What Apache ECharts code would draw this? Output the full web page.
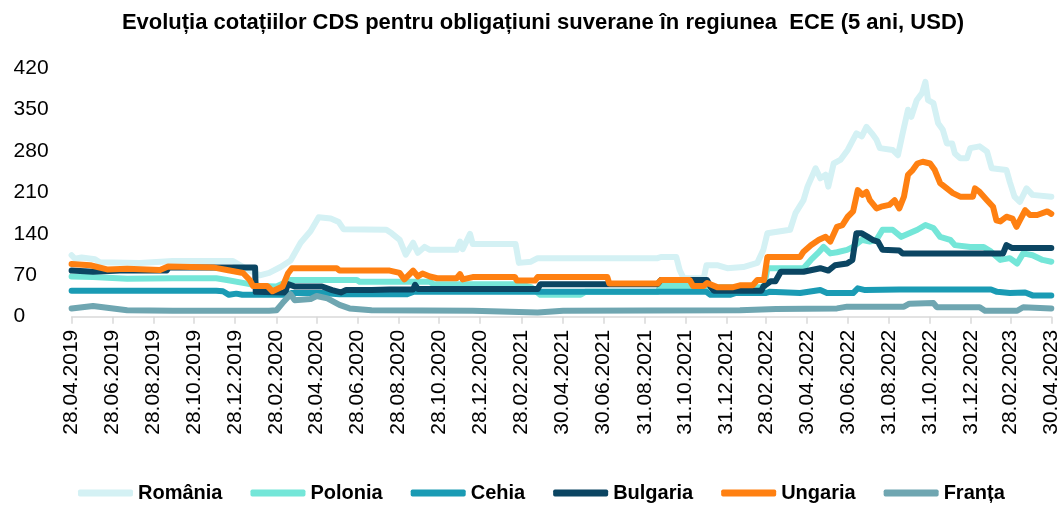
<!DOCTYPE html>
<html>
<head>
<meta charset="utf-8">
<script src="https://cdn.jsdelivr.net/npm/echarts@6/dist/echarts.min.js"></script>
<style>
  html, body { margin: 0; padding: 0; background: #fff; }
  #chart { width: 1062px; height: 505px; }
</style>
</head>
<body>
<div id="chart"></div>
<script>
// etichetele axei X (date)
const tickLabels = [
  "28.04.2019", "28.06.2019", "28.08.2019", "28.10.2019", "28.12.2019",
  "28.02.2020", "28.04.2020", "28.06.2020", "28.08.2020", "28.10.2020",
  "28.12.2020", "28.02.2021", "30.04.2021", "30.06.2021", "31.08.2021",
  "31.10.2021", "31.12.2021", "28.02.2022", "30.04.2022", "30.06.2022",
  "31.08.2022", "31.10.2022", "31.12.2022", "28.02.2023", "30.04.2023"
];
const yTicks = [0, 70, 140, 210, 280, 350, 420];

const romania = [
  ["2019-04-28", 104], ["2019-05-03", 98], ["2019-05-13", 100], ["2019-06-02", 97],
  ["2019-06-09", 92], ["2019-08-08", 91], ["2019-09-26", 94], ["2019-12-25", 94],
  ["2020-01-12", 82], ["2020-02-03", 70], ["2020-02-17", 74], ["2020-03-05", 84],
  ["2020-03-20", 95], ["2020-04-04", 125], ["2020-04-19", 145], ["2020-05-01", 168],
  ["2020-05-19", 166], ["2020-05-31", 160], ["2020-06-07", 148], ["2020-08-10", 147],
  ["2020-08-18", 141], ["2020-08-30", 130], ["2020-09-08", 105], ["2020-09-19", 125],
  ["2020-09-26", 108], ["2020-10-06", 118], ["2020-10-14", 113], ["2020-11-23", 113],
  ["2020-11-28", 127], ["2020-12-02", 114], ["2020-12-13", 140], ["2020-12-17", 123],
  ["2021-02-19", 123], ["2021-02-24", 91], ["2021-03-14", 93], ["2021-03-24", 99],
  ["2021-09-19", 99], ["2021-09-24", 101], ["2021-10-17", 101], ["2021-10-22", 79],
  ["2021-10-28", 65], ["2021-11-27", 65], ["2021-12-01", 87], ["2021-12-17", 87],
  ["2022-01-01", 82], ["2022-01-25", 84], ["2022-02-15", 91], ["2022-02-24", 113],
  ["2022-03-02", 141], ["2022-04-05", 147], ["2022-04-13", 175], ["2022-04-25", 197],
  ["2022-05-01", 220], ["2022-05-13", 251], ["2022-05-20", 234], ["2022-05-28", 240],
  ["2022-06-01", 220], ["2022-06-09", 259], ["2022-06-19", 265], ["2022-06-30", 282],
  ["2022-07-13", 310], ["2022-07-21", 305], ["2022-07-28", 321], ["2022-08-05", 310],
  ["2022-08-12", 299], ["2022-08-17", 285], ["2022-09-05", 282], ["2022-09-13", 273],
  ["2022-09-20", 310], ["2022-09-28", 350], ["2022-10-03", 338], ["2022-10-11", 366],
  ["2022-10-19", 378], ["2022-10-24", 397], ["2022-10-28", 366], ["2022-11-05", 361],
  ["2022-11-12", 327], ["2022-11-19", 316], ["2022-11-25", 293], ["2022-12-03", 293],
  ["2022-12-07", 276], ["2022-12-15", 268], ["2022-12-25", 268], ["2022-12-30", 285],
  ["2023-01-13", 288], ["2023-01-24", 279], ["2023-01-31", 251], ["2023-02-22", 248],
  ["2023-02-27", 228], ["2023-03-06", 203], ["2023-03-14", 194], ["2023-03-24", 217],
  ["2023-04-02", 206], ["2023-04-30", 203]
];

const polonia = [
  ["2019-04-28", 68], ["2019-05-30", 67], ["2019-07-20", 64], ["2019-09-26", 65],
  ["2019-11-30", 65], ["2019-12-16", 62], ["2020-01-15", 56], ["2020-02-03", 52],
  ["2020-02-28", 51], ["2020-03-20", 62], ["2020-06-27", 62], ["2020-07-01", 59],
  ["2020-10-14", 59], ["2020-10-19", 55], ["2021-02-25", 55], ["2021-03-14", 50],
  ["2021-03-28", 37], ["2021-05-27", 37], ["2021-06-03", 42], ["2021-09-19", 42],
  ["2021-09-24", 52], ["2021-11-11", 52], ["2021-11-17", 50], ["2022-02-25", 50],
  ["2022-03-02", 82], ["2022-04-25", 82], ["2022-05-06", 96], ["2022-05-16", 107],
  ["2022-05-25", 118], ["2022-06-04", 107], ["2022-06-14", 109], ["2022-06-29", 113],
  ["2022-07-08", 118], ["2022-07-21", 130], ["2022-08-02", 127], ["2022-08-12", 130],
  ["2022-08-21", 147], ["2022-09-05", 147], ["2022-09-18", 135], ["2022-09-30", 141],
  ["2022-10-12", 147], ["2022-10-24", 155], ["2022-11-05", 150], ["2022-11-15", 135],
  ["2022-11-30", 130], ["2022-12-07", 121], ["2022-12-30", 118], ["2023-01-19", 118],
  ["2023-01-30", 110], ["2023-02-13", 96], ["2023-02-27", 99], ["2023-03-10", 90],
  ["2023-03-19", 107], ["2023-04-02", 104], ["2023-04-17", 96], ["2023-04-30", 93]
];

const cehia = [
  ["2019-04-28", 44], ["2019-11-30", 44], ["2019-12-10", 43], ["2019-12-19", 37],
  ["2019-12-30", 39], ["2020-01-08", 37], ["2020-03-12", 37], ["2020-03-21", 40],
  ["2020-05-06", 40], ["2020-06-01", 38], ["2020-09-10", 38], ["2020-09-19", 42],
  ["2021-12-01", 42], ["2021-12-07", 37], ["2022-01-05", 37], ["2022-01-13", 40],
  ["2022-02-28", 40], ["2022-03-05", 42], ["2022-04-20", 40], ["2022-05-20", 45],
  ["2022-05-30", 40], ["2022-07-08", 40], ["2022-07-15", 48], ["2022-07-26", 45],
  ["2022-09-15", 46], ["2023-01-30", 46], ["2023-02-08", 42], ["2023-02-27", 40],
  ["2023-03-22", 41], ["2023-04-02", 36], ["2023-04-30", 36]
];

const bulgaria = [
  ["2019-04-28", 78], ["2019-05-30", 76], ["2019-07-09", 78], ["2019-09-17", 78],
  ["2019-09-20", 83], ["2020-01-27", 83], ["2020-01-28", 42], ["2020-03-12", 41],
  ["2020-03-16", 55], ["2020-03-27", 51], ["2020-05-06", 51], ["2020-05-21", 45],
  ["2020-06-03", 41], ["2020-06-11", 45], ["2020-07-19", 45], ["2020-08-15", 46],
  ["2020-09-19", 46], ["2020-09-22", 54], ["2020-09-26", 47], ["2021-03-24", 47],
  ["2021-03-28", 55], ["2021-09-19", 55], ["2021-09-24", 62], ["2021-12-02", 62],
  ["2021-12-07", 51], ["2021-12-12", 44], ["2022-02-21", 44], ["2022-02-24", 51],
  ["2022-03-07", 60], ["2022-03-14", 60], ["2022-03-22", 76], ["2022-04-25", 76],
  ["2022-05-20", 82], ["2022-06-01", 78], ["2022-06-11", 87], ["2022-06-29", 90],
  ["2022-07-07", 96], ["2022-07-13", 141], ["2022-07-21", 141], ["2022-07-30", 135],
  ["2022-08-06", 130], ["2022-08-14", 127], ["2022-08-21", 113], ["2022-09-15", 112],
  ["2022-09-20", 107], ["2023-02-17", 107], ["2023-02-22", 121], ["2023-03-03", 116],
  ["2023-04-30", 116]
];

const ungaria = [
  ["2019-04-28", 89], ["2019-05-26", 87], ["2019-06-20", 80], ["2019-07-20", 81],
  ["2019-09-07", 79], ["2019-09-19", 85], ["2019-11-27", 83], ["2019-12-16", 79],
  ["2020-01-09", 74], ["2020-01-19", 62], ["2020-01-24", 52], ["2020-02-14", 52],
  ["2020-02-22", 43], ["2020-03-08", 51], ["2020-03-16", 73], ["2020-03-22", 82],
  ["2020-05-28", 82], ["2020-06-01", 78], ["2020-08-15", 78], ["2020-08-30", 74],
  ["2020-09-06", 63], ["2020-09-19", 78], ["2020-09-26", 68], ["2020-10-03", 73],
  ["2020-10-14", 68], ["2020-10-25", 65], ["2020-11-23", 65], ["2020-11-28", 72],
  ["2020-12-02", 63], ["2020-12-17", 67], ["2021-02-18", 67], ["2021-02-21", 61],
  ["2021-03-20", 61], ["2021-03-24", 67], ["2021-07-06", 67], ["2021-07-09", 56],
  ["2021-09-19", 56], ["2021-09-24", 62], ["2021-11-06", 62], ["2021-11-11", 52],
  ["2021-11-27", 52], ["2021-12-02", 57], ["2021-12-17", 50], ["2022-01-10", 50],
  ["2022-01-20", 53], ["2022-02-08", 53], ["2022-02-15", 62], ["2022-02-25", 62],
  ["2022-03-02", 101], ["2022-04-20", 101], ["2022-04-25", 110], ["2022-05-06", 121],
  ["2022-05-18", 130], ["2022-05-28", 135], ["2022-06-04", 127], ["2022-06-14", 152],
  ["2022-06-22", 155], ["2022-06-30", 169], ["2022-07-08", 178], ["2022-07-15", 214],
  ["2022-07-22", 206], ["2022-07-28", 211], ["2022-08-02", 197], ["2022-08-12", 183],
  ["2022-08-19", 186], ["2022-08-31", 189], ["2022-09-08", 197], ["2022-09-15", 183],
  ["2022-09-22", 203], ["2022-09-28", 240], ["2022-10-05", 248], ["2022-10-12", 259],
  ["2022-10-20", 262], ["2022-10-31", 259], ["2022-11-07", 248], ["2022-11-15", 226],
  ["2022-11-25", 217], ["2022-12-04", 209], ["2022-12-15", 203], ["2023-01-03", 203],
  ["2023-01-06", 217], ["2023-01-13", 211], ["2023-01-24", 197], ["2023-02-02", 186],
  ["2023-02-07", 163], ["2023-02-13", 161], ["2023-02-22", 169], ["2023-03-03", 166],
  ["2023-03-09", 152], ["2023-03-14", 163], ["2023-03-22", 180], ["2023-03-29", 172],
  ["2023-04-09", 172], ["2023-04-24", 178], ["2023-04-30", 174]
];

const franta = [
  ["2019-04-28", 14], ["2019-05-30", 18], ["2019-07-20", 11], ["2019-09-26", 10],
  ["2020-02-17", 10], ["2020-02-28", 11], ["2020-03-08", 23], ["2020-03-20", 38],
  ["2020-03-26", 28], ["2020-04-19", 30], ["2020-04-28", 35], ["2020-05-14", 31],
  ["2020-06-01", 20], ["2020-06-16", 14], ["2020-07-19", 11], ["2020-12-17", 10],
  ["2021-03-24", 7], ["2021-05-01", 10], ["2022-01-20", 11], ["2022-03-15", 13],
  ["2022-06-14", 14], ["2022-06-29", 17], ["2022-09-22", 17], ["2022-09-30", 22],
  ["2022-11-05", 23], ["2022-11-10", 16], ["2023-01-13", 16], ["2023-01-21", 10],
  ["2023-03-10", 10], ["2023-03-19", 16], ["2023-04-30", 14]
];

const seriesNames = ["România", "Polonia", "Cehia", "Bulgaria", "Ungaria", "Franța"];
const seriesData = [romania, polonia, cehia, bulgaria, ungaria, franta];
const colors = ["#d4f1f4", "#74e6d8", "#1a9bb4", "#0b4562", "#ff8011", "#6fa6b1"];

const DAY = 86400000;
// zile de la 1970-01-01 (UTC), ca sa nu depindem de fusul orar
function dayNum(y, m, d) {
  return Math.round(Date.UTC(y, m - 1, d) / DAY);
}
// "28.04.2019" -> numar de zile
function parseLabel(s) {
  const p = s.split(".");
  return dayNum(+p[2], +p[1], +p[0]);
}
// "2019-04-28" -> numar de zile
function parseIso(s) {
  const p = s.split("-");
  return dayNum(+p[0], +p[1], +p[2]);
}
function pad(n) {
  return n < 10 ? "0" + n : "" + n;
}
const tickValues = tickLabels.map(parseLabel);

const chart = echarts.init(document.getElementById("chart"));
const option = {
  animation: false,
  color: colors,
  title: {
    text: "Evoluția cotațiilor CDS pentru obligațiuni suverane în regiunea  ECE (5 ani, USD)",
    left: 538,
    textAlign: "center",
    top: 7,
    textStyle: {
      fontFamily: "Liberation Sans",
      fontSize: 22,
      fontWeight: "bold",
      color: "#000",
    },
  },
  legend: {
    bottom: 2,
    left: 78,
    padding: 0,
    icon: "roundRect",
    itemWidth: 55,
    itemHeight: 7,
    itemGap: 28,
    textStyle: {
      fontFamily: "Liberation Sans",
      fontSize: 20,
      fontWeight: "bold",
      color: "#000",
    },
    data: seriesNames,
  },
  grid: {
    left: 71.6,
    right: 10.7,
    top: 68.3,
    bottom: 188.3,
  },
  xAxis: {
    type: "value",
    min: tickValues[0],
    max: tickValues[tickValues.length - 1],
    axisLine: { show: true, lineStyle: { color: "#d9d9d9", width: 1.5 } },
    axisTick: {
      show: true,
      length: 7,
      customValues: tickValues,
      lineStyle: { color: "#d9d9d9", width: 1.5 },
    },
    axisLabel: {
      customValues: tickValues,
      rotate: 90,
      margin: 13,
      fontFamily: "Liberation Sans",
      fontSize: 21,
      color: "#000",
      formatter: function (val) {
        const d = new Date(val * DAY);
        return pad(d.getUTCDate()) + "." + pad(d.getUTCMonth() + 1) + "." + d.getUTCFullYear();
      },
    },
    splitLine: { show: false },
  },
  yAxis: {
    type: "value",
    min: yTicks[0],
    max: yTicks[yTicks.length - 1],
    interval: 70,
    axisLine: { show: false },
    axisTick: { show: false },
    splitLine: { show: false },
    axisLabel: {
      align: "left",
      margin: 58,
      fontFamily: "Liberation Sans",
      fontSize: 21,
      color: "#000",
    },
  },
  series: seriesNames.map((name, i) => ({
    name: name,
    type: "line",
    data: seriesData[i].map((p) => [parseIso(p[0]), p[1]]),
    showSymbol: false,
    symbol: "none",
    lineStyle: { width: 6, color: colors[i], cap: "round", join: "round" },
  })),
};
chart.setOption(option);
</script>
</body>
</html>
